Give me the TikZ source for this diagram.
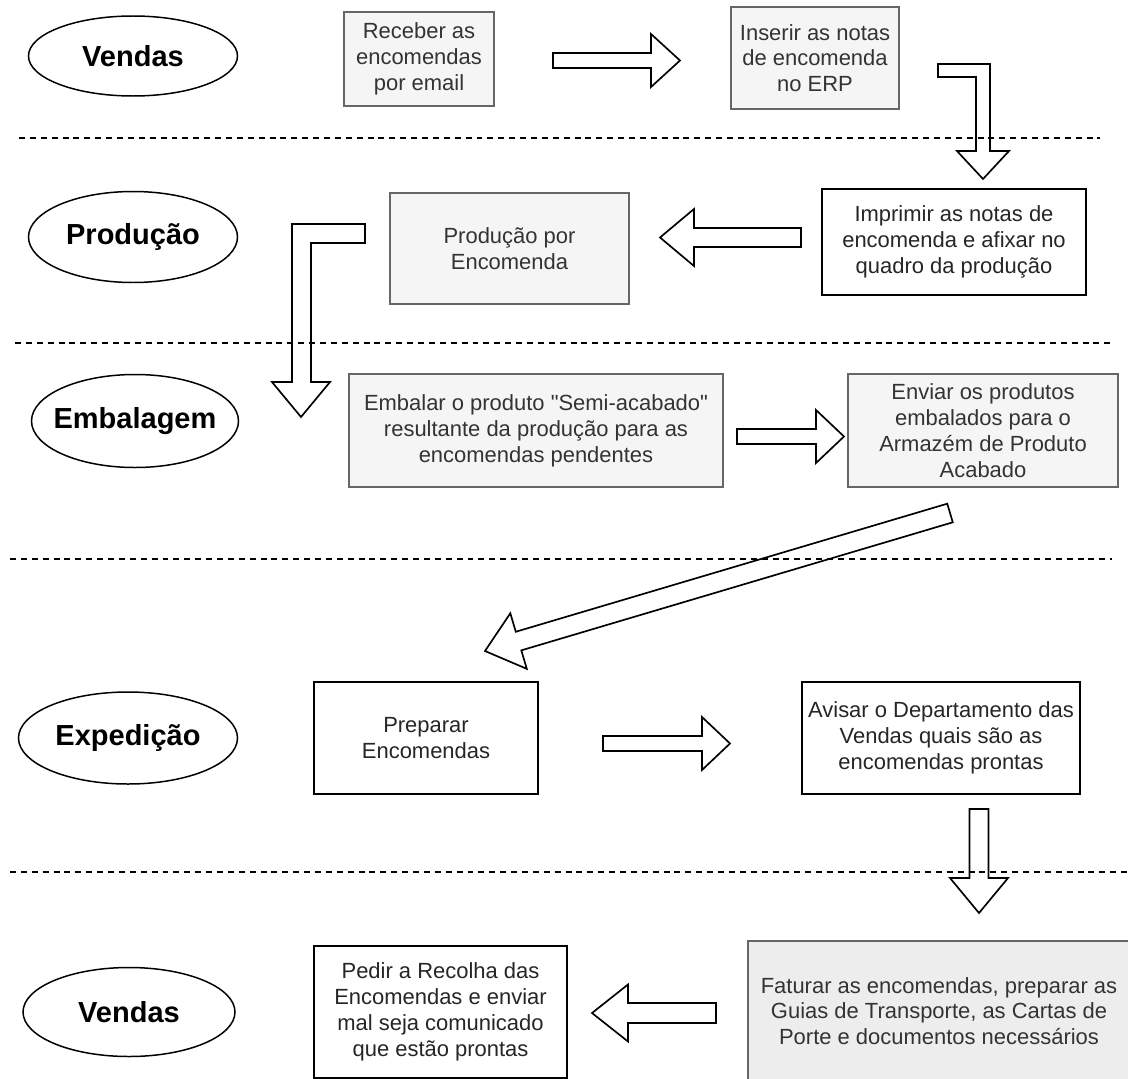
\documentclass[tikz,border=0pt]{standalone}
\usepackage{fontspec}
\setmainfont{Liberation Sans}[Ligatures=TeXOff]
\usepackage{tikz}
\usetikzlibrary{shapes.geometric,calc}

\definecolor{boxfill}{HTML}{F5F5F5}
\definecolor{boxline}{HTML}{666666}
\definecolor{boxtext}{HTML}{333333}
\definecolor{darkfill}{HTML}{EDEDED}

\def\px{0.02cm}
\tikzset{wh/.style 2 args={minimum width=#1*\px,minimum height=#2*\px}}
% block arrow: tail, tip, half shaft, half head, head length (in px)
\newcommand{\blockarrow}[5]{%
  \coordinate (bb) at ($(#2)!#5*\px!(#1)$);
  \draw[blockarr] ($(#1)!#3*\px!90:(#2)$) -- ($(bb)!#3*\px!90:(#2)$)
    -- ($(bb)!#4*\px!90:(#2)$) -- (#2) -- ($(bb)!#4*\px!-90:(#2)$)
    -- ($(bb)!#3*\px!-90:(#2)$) -- ($(#1)!#3*\px!-90:(#2)$) -- cycle;
}

\begin{document}
\begin{tikzpicture}[x=0.02cm,y=-0.02cm]
  \tikzstyle{lane} = [draw,ellipse,line width=0.85pt,inner sep=0pt,font=\fontsize{16.5}{19}\selectfont\bfseries]
  \tikzstyle{task} = [draw=boxline,fill=boxfill,text=boxtext,line width=0.7pt,align=center,inner sep=0pt,font=\fontsize{12.5}{14.7}\selectfont]
  \tikzstyle{todo} = [task,draw=black,fill=white,text=black!85]
  \tikzstyle{blockarr} = [draw,line width=0.95pt,line join=miter]
  \tikzstyle{sep} = [line width=0.8pt,dash pattern=on 3.4pt off 2.8pt]

  \useasboundingbox (0,0) rectangle (1128,1078);
  \clip (0,0) rectangle (1128,1078);

  % lane separators
  \foreach \y/\a/\b in {138/19/1100,343/15/1115,559/10/1112,872/10/1128}
    \draw[sep] (\a,\y) -- (\b,\y);

  % departments
  \foreach \n/\t/\x/\y/\w/\h in {v1/Vendas/133/56/209/80,prod/Produção/133/237/209/91,
      emb/Embalagem/135/421/207/93,exped/Expedição/128/738/219/92,v2/Vendas/129/1012/212/89}
    \node[lane,wh={\w}{\h}] (\n) at (\x,\y) {\makebox[0pt]{\t}};

  % tasks
  \node[task,wh={150}{94}] (receber) at (419,59) {Receber as\\encomendas\\por email};
  \node[task,wh={168}{102}] (inserir) at (815,58) {Inserir as notas\\de encomenda\\no ERP};
  \node[todo,wh={264}{106}] (imprimir) at (954,242) {Imprimir as notas de\\encomenda e afixar no\\quadro da produção};
  \node[task,wh={239}{111}] (producao) at (509.5,248.5) {Produção por\\Encomenda};
  \node[task,wh={374}{113}] (embalar) at (536,430.5) {Embalar o produto "Semi-acabado"\\resultante da produção para as\\encomendas pendentes};
  \node[task,wh={270}{113}] (enviar) at (983,430.5) {Enviar os produtos\\embalados para o\\Armazém de Produto\\Acabado};
  \node[todo,wh={224}{112}] (preparar) at (426,738) {Preparar\\Encomendas};
  \node[todo,wh={278}{112}] (avisar) at (941,738) {Avisar o Departamento das\\Vendas quais são as\\encomendas prontas};
  \node[task,fill=darkfill,wh={382}{140}] (faturar) at (939,1011) {Faturar as encomendas, preparar as\\Guias de Transporte, as Cartas de\\Porte e documentos necessários};
  \node[todo,wh={253}{132}] (pedir) at (440.5,1012) {Pedir a Recolha das\\Encomendas e enviar\\mal seja comunicado\\que estão prontas};

  % arrow ends
  \coordinate (a1t) at (553,60.5);  \coordinate (a1h) at (680,60.5);
  \coordinate (a2t) at (801,237.5); \coordinate (a2h) at (660,237.5);
  \coordinate (a3t) at (737,436.5); \coordinate (a3h) at (844,436.5);
  \coordinate (a4t) at (950,513);   \coordinate (a4h) at (485,651);
  \coordinate (a5t) at (603,743.5); \coordinate (a5h) at (730,743.5);
  \coordinate (a6t) at (979,809);   \coordinate (a6h) at (979,913);
  \coordinate (a7t) at (716,1013);  \coordinate (a7h) at (592,1013);

  \foreach \p/\q/\sw/\hw/\hl in {a1t/a1h/7.5/26.5/29,a2t/a2h/9.5/28.5/34,a3t/a3h/7.5/26.5/28,
      a4t/a4h/9.7/29/35,a5t/a5h/7.5/26.5/28,a6t/a6h/9.5/29/35,a7t/a7h/10/28.5/36}
    \blockarrow{\p}{\q}{\sw}{\hw}{\hl};

  % bent arrows
  \draw[blockarr] (938,64) -- (990,64) -- (990,151) -- (1009,151) -- (983,179)
    -- (957,151) -- (976,151) -- (976,77) -- (938,77) -- cycle;
  \draw[blockarr] (365,224) -- (292,224) -- (292,382) -- (272,382) -- (301,417)
    -- (330,382) -- (311,382) -- (311,243) -- (365,243) -- cycle;
\end{tikzpicture}
\end{document}
